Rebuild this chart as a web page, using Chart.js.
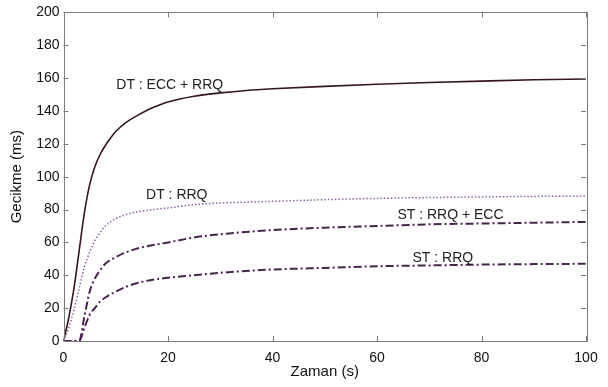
<!DOCTYPE html>
<html>
<head>
<meta charset="utf-8">
<script src="https://cdn.jsdelivr.net/npm/chart.js@4/dist/chart.umd.min.js"></script>
<style>
  html, body { margin: 0; padding: 0; background: #fff; }
  #wrap { width: 608px; height: 387px; }
</style>
</head>
<body>
<div id="wrap"><canvas id="chart" width="608" height="387"></canvas></div>
<script>
// Zaman (s) -> Gecikme (ms), okunan değerler
const dtEccRrqX = [0, 1, 2, 3, 4, 5, 6, 7, 8, 9, 10, 12, 14, 16, 18, 20, 25, 30, 35, 40, 50, 60, 70, 80, 90, 100];
const dtEccRrqY = [0, 14, 32, 55, 78, 95, 106, 113.5, 119, 123.5, 127.5, 133, 137, 140.5, 143.2, 145.5, 149, 151, 152.5, 153.5, 155, 156.3, 157.3, 158.2, 159, 159.5];

const dtRrqX = [0, 1, 2, 3, 4, 5, 6, 7, 8, 9, 10, 12, 14, 16, 18, 20, 25, 30, 35, 40, 50, 60, 70, 80, 90, 100];
const dtRrqY = [0, 8, 19, 32, 45, 54, 61, 66, 70, 72.5, 74.5, 77, 78.5, 79.5, 80.3, 81, 83, 84, 84.5, 85, 86, 86.8, 87.3, 87.7, 88, 88.2];

const stRrqEccX = [0, 3, 4, 5, 6, 7, 8, 10, 12, 15, 20, 25, 30, 40, 50, 60, 70, 80, 90, 100];
const stRrqEccY = [0, 0, 15, 30, 38, 43, 47, 51, 54, 57, 60, 63, 65, 67.5, 69, 70, 71, 71.5, 72, 72.5];

const stRrqX = [0, 3, 4, 5, 6, 7, 8, 10, 12, 15, 20, 25, 30, 40, 50, 60, 70, 80, 90, 100];
const stRrqY = [0, 0, 8, 16, 20, 24, 26.5, 30, 33, 36, 38.5, 40, 41.5, 43.5, 44.5, 45.5, 46, 46.5, 46.8, 47];

const xTicks = [0, 20, 40, 60, 80, 100];
const yTicks = [0, 20, 40, 60, 80, 100, 120, 140, 160, 180, 200];

// eğri etiketleri: metin, x, y (veri birimleri)
const labelTexts = ["DT : ECC + RRQ", "DT : RRQ", "ST : RRQ + ECC", "ST : RRQ"];
const labelX = [10.1, 15.8, 63.9, 66.8];
const labelY = [156, 89, 76.5, 50.6];

const FONT = "Arial, 'Liberation Sans', sans-serif";

function toPoints(xs, ys) {
  return xs.map((x, i) => ({ x: x, y: ys[i] }));
}

// Çerçeve, içe doğru çentikler ve eğri etiketleri
const boxPlugin = {
  id: 'boxPlugin',
  afterDraw(chart) {
    const ctx = chart.ctx;
    const a = chart.chartArea;
    const xs = chart.scales.x;
    const ys = chart.scales.y;
    ctx.save();
    ctx.strokeStyle = '#7a7a7a';
    ctx.lineWidth = 1;
    ctx.beginPath();
    ctx.rect(Math.round(a.left) + 0.5, Math.round(a.top) + 0.5,
             Math.round(a.right - a.left), Math.round(a.bottom - a.top));
    ctx.stroke();
    ctx.beginPath();
    xTicks.forEach(v => {
      const px = Math.round(xs.getPixelForValue(v)) + 0.5;
      ctx.moveTo(px, a.bottom); ctx.lineTo(px, a.bottom - 5);
      ctx.moveTo(px, a.top); ctx.lineTo(px, a.top + 5);
    });
    yTicks.forEach(v => {
      const py = Math.round(ys.getPixelForValue(v)) + 0.5;
      ctx.moveTo(a.left, py); ctx.lineTo(a.left + 5, py);
      ctx.moveTo(a.right, py); ctx.lineTo(a.right - 5, py);
    });
    ctx.stroke();

    ctx.fillStyle = '#222';
    ctx.font = '14px ' + FONT;
    ctx.textAlign = 'left';
    ctx.textBaseline = 'middle';
    labelTexts.forEach((t, i) => {
      ctx.fillText(t, xs.getPixelForValue(labelX[i]), ys.getPixelForValue(labelY[i]));
    });
    ctx.restore();
  }
};

new Chart(document.getElementById('chart').getContext('2d'), {
  type: 'line',
  data: {
    datasets: [
      {
        label: 'DT : ECC + RRQ',
        data: toPoints(dtEccRrqX, dtEccRrqY),
        borderColor: '#36161a',
        borderWidth: 1.6
      },
      {
        label: 'DT : RRQ',
        data: toPoints(dtRrqX, dtRrqY),
        borderColor: '#8e62a0',
        borderWidth: 1.5,
        borderDash: [1.5, 2]
      },
      {
        label: 'ST : RRQ + ECC',
        data: toPoints(stRrqEccX, stRrqEccY),
        borderColor: '#4b2152',
        borderWidth: 2,
        borderDash: [8, 3, 2, 3]
      },
      {
        label: 'ST : RRQ',
        data: toPoints(stRrqX, stRrqY),
        borderColor: '#4b2152',
        borderWidth: 2,
        borderDash: [8, 3, 2, 3]
      }
    ]
  },
  options: {
    responsive: false,
    animation: false,
    layout: { padding: { left: 0, top: 9, right: 22, bottom: 0 } },
    elements: {
      point: { radius: 0 },
      line: { cubicInterpolationMode: 'monotone', fill: false }
    },
    plugins: {
      legend: { display: false },
      tooltip: { enabled: false }
    },
    scales: {
      x: {
        type: 'linear',
        min: 0,
        max: 100,
        afterBuildTicks: s => { s.ticks = xTicks.map(v => ({ value: v })); },
        afterFit: s => { s.height = 46; },
        grid: { display: false, drawTicks: false },
        border: { display: false },
        ticks: { color: '#111', font: { family: FONT, size: 14 }, padding: 9, maxRotation: 0 },
        title: { display: true, text: 'Zaman (s)', color: '#111', font: { family: FONT, size: 15 }, padding: { top: 6, bottom: 6 } }
      },
      y: {
        min: 0,
        max: 200,
        afterBuildTicks: s => { s.ticks = yTicks.map(v => ({ value: v })); },
        afterFit: s => { s.width = 63.5; },
        grid: { display: false, drawTicks: false },
        border: { display: false },
        ticks: { color: '#111', font: { family: FONT, size: 14 }, padding: 4 },
        title: { display: true, text: 'Gecikme (ms)', color: '#111', font: { family: FONT, size: 15 }, padding: { top: 8, bottom: 8 } }
      }
    }
  },
  plugins: [boxPlugin]
});
</script>
</body>
</html>
